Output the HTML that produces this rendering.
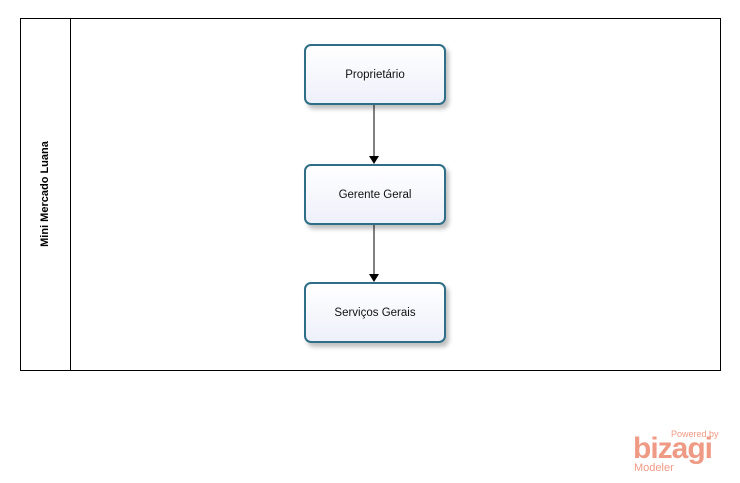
<!DOCTYPE html>
<html><head><style>
body{margin:0;width:740px;height:483px;background:#fff;position:relative;overflow:hidden;font-family:"Liberation Sans",sans-serif}
.pool{position:absolute;left:20px;top:18px;width:699px;height:351px;border:1px solid #000}
.hdr{position:absolute;left:70px;top:18px;width:1px;height:352px;background:#000}
.lbl{position:absolute;left:45px;top:194px;transform:translate(-50%,-50%) rotate(-90deg);font-size:11px;font-weight:bold;white-space:nowrap}
.box{position:absolute;left:304px;width:138px;height:57px;border:2px solid #2e6e86;border-radius:7px;background:linear-gradient(#fff,#eef0fa);box-shadow:3px 4px 4px rgba(0,0,0,.25);display:flex;align-items:center;justify-content:center;font-size:11.5px;color:#111}
.logo{position:absolute;font-family:"Liberation Sans",sans-serif;color:#ef9a85}
</style></head><body>
<div class="pool"></div><div class="hdr"></div>
<div class="lbl">Mini Mercado Luana</div>
<div class="box" style="top:44px">Proprietário</div>
<div class="box" style="top:164px">Gerente Geral</div>
<div class="box" style="top:282px">Serviços Gerais</div>
<svg width="740" height="483" style="position:absolute;left:0;top:0">
<line x1="374" y1="105" x2="374" y2="157" stroke="#000"/>
<polygon points="369,156 379,156 374,164" fill="#000"/>
<line x1="374" y1="225" x2="374" y2="275" stroke="#000"/>
<polygon points="369,274 379,274 374,282" fill="#000"/>
</svg>
<div class="logo" style="left:671px;top:429px;font-size:9px">Powered by</div>
<div class="logo" style="left:633px;top:432px;font-size:30px;font-weight:bold;letter-spacing:-1px">bizagi</div>
<div class="logo" style="left:634px;top:462px;font-size:11px">Modeler</div>
</body></html>
